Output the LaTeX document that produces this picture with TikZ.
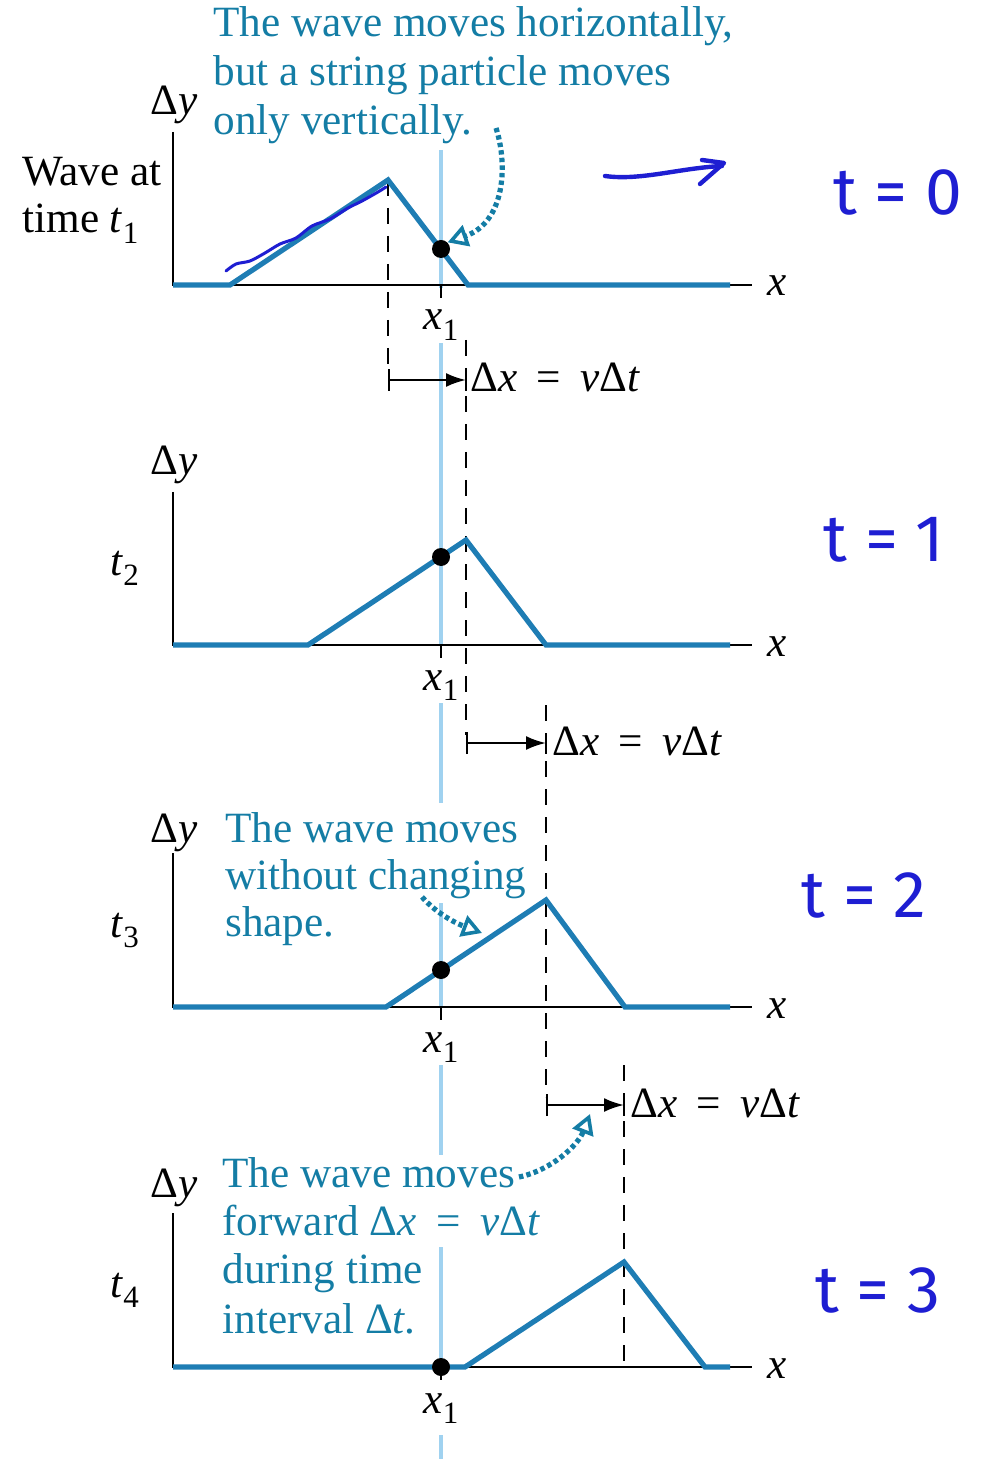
\documentclass[tikz,border=0pt]{standalone}
\usepackage{fontspec}
\setmainfont{Liberation Serif}
\newfontfamily\handfont{Fira Sans}
\usetikzlibrary{arrows.meta}
\definecolor{wavecol}{RGB}{30,125,180}
\definecolor{notecol}{RGB}{20,125,165}
\definecolor{guidecol}{RGB}{160,210,240}
\definecolor{handcol}{RGB}{30,30,210}
\newcommand\lowsub[1]{\raisebox{-0.55ex}{\fontsize{15.5}{15.5}\selectfont #1}}
\newcommand\eqsp{\hspace{0.45em}=\hspace{0.45em}}
\begin{document}
\begin{tikzpicture}[x=0.5pt,y=-0.5pt,
  lbl/.style={inner sep=0pt,font=\fontsize{21.6}{25}\selectfont},
  notetext/.style={lbl,text=notecol},
  axisline/.style={line width=1.4pt,black,line join=miter},
  waveline/.style={line width=2.6pt,wavecol,line join=miter},
  guideline/.style={line width=2.2pt,guidecol},
  dashline/.style={line width=1.4pt,black,dash pattern=on 8pt off 6pt},
  barline/.style={line width=1.4pt,black},
  dxarrow/.style={line width=1.2pt,black,{Bar[width=11pt]}-{Latex[length=10pt,width=7pt]}},
  dotarrow/.style={line width=2.6pt,notecol,dash pattern=on 2.2pt off 1.6pt,-{Triangle[open,length=10pt,width=11pt,line width=1.8pt]}},
  handtext/.style={inner sep=0pt,text=handcol,font=\handfont\fontsize{33}{33}\selectfont},
  handline/.style={handcol,line width=2.2pt,line cap=round,line join=round},
  dotnode/.style={circle,fill=black,inner sep=0pt,minimum size=9pt},
]
\useasboundingbox (0,0) rectangle (994,1459);

% light guide line at x1
\draw[guideline] (441,150) -- (441,288);
\draw[guideline] (441,343) -- (441,645);
\draw[guideline] (441,703) -- (441,803);
\draw[guideline] (441,903) -- (441,1007);
\draw[guideline] (441,1065) -- (441,1155);
\draw[guideline] (441,1247) -- (441,1367);
\draw[guideline] (441,1435) -- (441,1459);

% ---------- panel 1 ----------
\draw[axisline] (173,132) -- (173,285) -- (752,285);
\draw[axisline] (441,285) -- (441,298);
\draw[dashline] (388,180) -- (388,372);
\draw[dashline] (466,340) -- (466,735);
\draw[waveline] (173,285) -- (230,285) -- (388,180) -- (468,285) -- (730,285);
\node[dotnode] (p1) at (441,249) {};
\node[lbl,anchor=base west] (dy1) at (150,115) {Δ\textit{y}};
\node[lbl,anchor=base west] (wa1) at (22,186) {Wave at};
\node[lbl,anchor=base west] (wa2) at (22,233) {time \textit{t}\lowsub{1}};
\node[lbl,anchor=base west] (xa1) at (767,296) {\textit{x}};
\node[lbl,anchor=base] (x11) at (441,330) {\textit{x}\lowsub{1}};
\coordinate (d1s) at (388,380);
\coordinate (d1e) at (466,380);
\draw[dxarrow] (d1s) -- (d1e);
\draw[barline] (466,370) -- (466,391);
\node[lbl,anchor=base west] (dx1) at (470,392) {Δ\textit{x}\eqsp\textit{v}Δ\textit{t}};
\node[notetext,anchor=base west] (n1a) at (213,37) {The wave moves horizontally,};
\node[notetext,anchor=base west] (n1b) at (213,86) {but a string particle moves};
\node[notetext,anchor=base west] (n1c) at (213,135) {only vertically.};
\coordinate (a1s) at (496,128);
\draw[dotarrow] (a1s) .. controls (508,165) and (505,222) .. (p1.north east);

% ---------- panel 2 ----------
\draw[axisline] (173,492) -- (173,645) -- (752,645);
\draw[axisline] (441,645) -- (441,658);
\draw[dashline] (546,705) -- (546,1097);
\draw[waveline] (173,645) -- (308,645) -- (466,540) -- (546,645) -- (730,645);
\node[dotnode] (p2) at (441,557) {};
\node[lbl,anchor=base west] (dy2) at (150,475) {Δ\textit{y}};
\node[lbl,anchor=base west] (t2) at (110,575) {\textit{t}\lowsub{2}};
\node[lbl,anchor=base west] (xa2) at (767,656) {\textit{x}};
\node[lbl,anchor=base] (x12) at (441,690) {\textit{x}\lowsub{1}};
\coordinate (d2s) at (466,743);
\coordinate (d2e) at (546,743);
\draw[dxarrow] (d2s) -- (d2e);
\draw[barline] (546,733) -- (546,754);
\node[lbl,anchor=base west] (dx2) at (552,755) {Δ\textit{x}\eqsp\textit{v}Δ\textit{t}};

% ---------- panel 3 ----------
\draw[axisline] (173,853) -- (173,1007) -- (752,1007);
\draw[axisline] (441,1007) -- (441,1020);
\draw[dashline] (624,1065) -- (624,1367);
\draw[waveline] (173,1007) -- (386,1007) -- (546,900) -- (625,1007) -- (730,1007);
\node[dotnode] (p3) at (441,970) {};
\node[lbl,anchor=base west] (dy3) at (150,842) {Δ\textit{y}};
\node[lbl,anchor=base west] (t3) at (110,937) {\textit{t}\lowsub{3}};
\node[lbl,anchor=base west] (xa3) at (767,1018) {\textit{x}};
\node[lbl,anchor=base] (x13) at (441,1052) {\textit{x}\lowsub{1}};
\coordinate (d3s) at (546,1105);
\coordinate (d3e) at (624,1105);
\draw[dxarrow] (d3s) -- (d3e);
\draw[barline] (624,1095) -- (624,1116);
\node[lbl,anchor=base west] (dx3) at (630,1117) {Δ\textit{x}\eqsp\textit{v}Δ\textit{t}};
\node[notetext,anchor=base west] (n3a) at (225,842) {The wave moves};
\node[notetext,anchor=base west] (n3b) at (225,889) {without changing};
\node[notetext,anchor=base west] (n3c) at (225,936) {shape.};
\coordinate (a2s) at (422,897);
\coordinate (a2e) at (482,933);
\draw[dotarrow] (a2s) .. controls (438,915) and (458,924) .. (a2e);

% ---------- panel 4 ----------
\draw[axisline] (173,1213) -- (173,1367) -- (752,1367);
\draw[axisline] (441,1367) -- (441,1380);
\draw[waveline] (173,1367) -- (465,1367) -- (624,1262) -- (705,1367) -- (730,1367);
\node[dotnode] (p4) at (441,1367) {};
\node[lbl,anchor=base west] (dy4) at (150,1197) {Δ\textit{y}};
\node[lbl,anchor=base west] (t4) at (110,1297) {\textit{t}\lowsub{4}};
\node[lbl,anchor=base west] (xa4) at (767,1378) {\textit{x}};
\node[lbl,anchor=base] (x14) at (441,1413) {\textit{x}\lowsub{1}};
\node[notetext,anchor=base west] (n4a) at (222,1187) {The wave moves};
\node[notetext,anchor=base west] (n4b) at (222,1235) {forward Δ\textit{x}\eqsp\textit{v}Δ\textit{t}};
\node[notetext,anchor=base west] (n4c) at (222,1283) {during time};
\node[notetext,anchor=base west] (n4d) at (222,1333) {interval Δ\textit{t}.};
\coordinate (a3s) at (519,1177);
\coordinate (a3e) at (590,1114);
\draw[dotarrow] (a3s) .. controls (552,1170) and (578,1145) .. (a3e);

% ---------- handwritten annotations ----------
\draw[handline,line width=1.5pt] plot[smooth] coordinates {(226,271) (236,264) (250,261) (265,253) (280,244) (296,238) (312,226) (330,219) (348,208) (362,201) (378,192) (386,187)};
\coordinate (h1s) at (605,176);
\coordinate (h1e) at (722,166);
\draw[handline] (h1s) .. controls (640,181) and (680,168) .. (h1e);
\draw[handline] (702,160) -- (724,163) -- (700,184);
\node[handtext] (ht0) at (898,192) {t = 0};
\node[handtext] (ht1) at (884,540) {t = 1};
\node[handtext] (ht2) at (864,895) {t = 2};
\node[handtext] (ht3) at (878,1290) {t = 3};
\end{tikzpicture}
\end{document}
